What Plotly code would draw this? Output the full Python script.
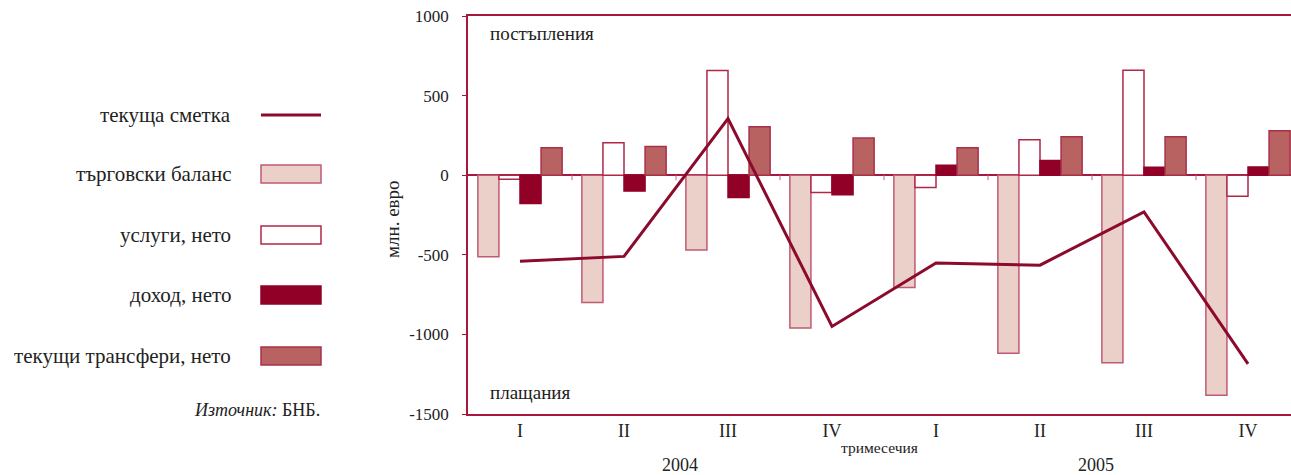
import plotly.graph_objects as go

# ---------------- data ----------------
quarters = ["I", "II", "III", "IV", "I", "II", "III", "IV"]
years = ["2004", "2005"]
current_account = [-540, -510, 355, -950, -552, -565, -230, -1185]
trade_balance = [-512, -800, -470, -960, -706, -1118, -1178, -1383]
services_net = [-25, 204, 658, -108, -77, 223, 660, -133]
income_net = [-177, -100, -140, -123, 62, 92, 50, 52]
transfers_net = [173, 181, 304, 233, 173, 242, 242, 279]

series_names = ["текуща сметка", "търговски баланс", "услуги, нето", "доход, нето", "текущи трансфери, нето"]
y_ticks = [-1500, -1000, -500, 0, 500, 1000]

# ---------------- layout constants ----------------
W, H = 1291, 475
S_LEFT, S_TOP, S_BOTTOM = 468, 16, 414
L, T, B, R = S_LEFT, S_TOP, H - S_BOTTOM, 0
PW = W - L - R
PH = H - T - B
CAT_W = 104.0
x_max = -0.5 + PW / CAT_W

FONT = "Liberation Serif, Tinos, Times New Roman, DejaVu Serif, serif"
CRIMSON = "#A8173E"
LINE_C = "#8C0A2B"
TRADE_FILL, TRADE_LINE = "#EBD0CA", "#C05A72"
SERV_FILL, SERV_LINE = "#FFFFFF", "#B02848"
INC_FILL, INC_LINE = "#910026", "#910026"
TRF_FILL, TRF_LINE = "#B86262", "#A8304A"
TXT = "#222222"

xs = list(range(len(quarters)))

fig = go.Figure()
bar_specs = [
    (series_names[1], trade_balance, TRADE_FILL, TRADE_LINE),
    (series_names[2], services_net, SERV_FILL, SERV_LINE),
    (series_names[3], income_net, INC_FILL, INC_LINE),
    (series_names[4], transfers_net, TRF_FILL, TRF_LINE),
]
for name, vals, fill, line in bar_specs:
    fig.add_trace(go.Bar(x=xs, y=vals, name=name,
                         marker=dict(color=fill, line=dict(color=line, width=1.5))))
fig.add_trace(go.Scatter(x=xs, y=current_account, mode="lines", name=series_names[0],
                         line=dict(color=LINE_C, width=3)))


def px_x(sx):
    return (sx - L) / PW


def px_y(sy):
    return (H - B - sy) / PH


shapes = []
annotations = []

# small ticks on zero line at category boundaries
for i in range(len(quarters) - 1):
    shapes.append(dict(type="line", xref="x", yref="y", x0=i + 0.5, x1=i + 0.5,
                       ysizemode="pixel", yanchor=0, y0=0, y1=-5,
                       line=dict(color="#C06A80", width=1)))

# custom legend on the left
legend_rows = [115, 174, 235, 295, 356]
for idx, (name, rowy) in enumerate(zip(series_names, legend_rows)):
    annotations.append(dict(xref="paper", yref="paper", x=px_x(233), y=px_y(rowy),
                            text=name, showarrow=False, xanchor="right", yanchor="middle",
                            font=dict(family=FONT, size=21, color=TXT)))
    if idx == 0:
        shapes.append(dict(type="line", xref="paper", yref="paper",
                           x0=px_x(261), x1=px_x(321), y0=px_y(rowy), y1=px_y(rowy),
                           line=dict(color=LINE_C, width=3)))
    else:
        _, _, fill, line = bar_specs[idx - 1]
        shapes.append(dict(type="rect", xref="paper", yref="paper",
                           x0=px_x(261), x1=px_x(321), y0=px_y(rowy - 9), y1=px_y(rowy + 9),
                           fillcolor=fill, line=dict(color=line, width=1.5)))

annotations.append(dict(xref="paper", yref="paper", x=px_x(322), y=px_y(410),
                        text="<i>Източник:</i> БНБ.", showarrow=False, xanchor="right",
                        yanchor="middle", font=dict(family=FONT, size=18, color=TXT)))

# in-plot labels
annotations.append(dict(xref="paper", yref="paper", x=px_x(488), y=px_y(33),
                        text="постъпления", showarrow=False, xanchor="left", yanchor="middle",
                        font=dict(family=FONT, size=19, color=TXT)))
annotations.append(dict(xref="paper", yref="paper", x=px_x(488), y=px_y(392),
                        text="плащания", showarrow=False, xanchor="left", yanchor="middle",
                        font=dict(family=FONT, size=19, color=TXT)))

# axis titles / year labels
annotations.append(dict(xref="paper", yref="paper", x=px_x(879), y=px_y(447),
                        text="тримесечия", showarrow=False, xanchor="center", yanchor="middle",
                        font=dict(family=FONT, size=15.5, color=TXT)))
annotations.append(dict(xref="x", yref="paper", x=1.54, y=px_y(465),
                        text=years[0], showarrow=False, xanchor="center", yanchor="middle",
                        font=dict(family=FONT, size=18, color=TXT)))
annotations.append(dict(xref="x", yref="paper", x=5.54, y=px_y(465),
                        text=years[1], showarrow=False, xanchor="center", yanchor="middle",
                        font=dict(family=FONT, size=18, color=TXT)))
annotations.append(dict(xref="paper", yref="paper", x=px_x(392), y=px_y(219),
                        text="млн. евро", showarrow=False, textangle=-90,
                        xanchor="center", yanchor="middle",
                        font=dict(family=FONT, size=19, color=TXT)))

fig.update_layout(
    width=W, height=H,
    margin=dict(l=L, r=R, t=T, b=B, pad=0),
    paper_bgcolor="white", plot_bgcolor="white",
    barmode="group", bargap=0.19, bargroupgap=0,
    showlegend=False,
    shapes=shapes, annotations=annotations,
    font=dict(family=FONT, color=TXT),
)
fig.update_xaxes(range=[-0.5, x_max], tickvals=xs, ticktext=quarters,
                 showline=True, linecolor=CRIMSON, linewidth=1.5, mirror=True,
                 ticks="", showgrid=False, zeroline=False,
                 tickfont=dict(family=FONT, size=18, color=TXT))
fig.update_yaxes(range=[-1500, 1000], tickvals=y_ticks, ticktext=[str(v) for v in y_ticks],
                 showline=True, linecolor=CRIMSON, linewidth=1.5, mirror=False,
                 ticks="outside", ticklen=4, tickcolor=CRIMSON, showgrid=False,
                 zeroline=True, zerolinecolor=CRIMSON, zerolinewidth=1.5,
                 ticklabelstandoff=10, ticklabeloverflow="allow",
                 tickfont=dict(family=FONT, size=17, color=TXT))

fig.write_html("out.html", config={"displayModeBar": False},
               post_script="document.body.style.margin='0';document.body.style.overflow='hidden';")
